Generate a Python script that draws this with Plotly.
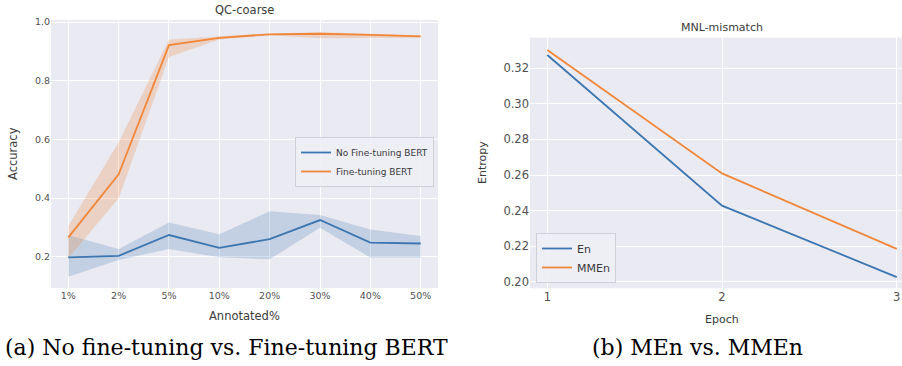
import plotly.graph_objects as go

W, H = 902, 366

# ---- data: left panel (QC-coarse) ----
annotated = ["1%", "2%", "5%", "10%", "20%", "30%", "40%", "50%"]
no_ft_mean = [0.198, 0.203, 0.274, 0.230, 0.260, 0.325, 0.248, 0.245]
no_ft_upper = [0.274, 0.226, 0.317, 0.277, 0.355, 0.342, 0.293, 0.271]
no_ft_lower = [0.132, 0.189, 0.226, 0.198, 0.191, 0.299, 0.197, 0.197]
ft_mean = [0.266, 0.481, 0.921, 0.946, 0.958, 0.960, 0.956, 0.951]
ft_upper = [0.305, 0.590, 0.940, 0.950, 0.961, 0.965, 0.960, 0.955]
ft_lower = [0.195, 0.399, 0.881, 0.940, 0.955, 0.945, 0.946, 0.946]
acc_ticks = [0.2, 0.4, 0.6, 0.8, 1.0]

# ---- data: right panel (MNL-mismatch) ----
epochs = [1, 2, 3]
en_vals = [0.3275, 0.2428, 0.2026]
mmen_vals = [0.3303, 0.2609, 0.2185]
ent_ticks = [0.20, 0.22, 0.24, 0.26, 0.28, 0.30, 0.32]

BLUE = "#3b76b0"
ORANGE = "#f0873a"
BLUE_BAND = "rgba(59,118,176,0.22)"
ORANGE_BAND = "rgba(240,135,58,0.25)"
BG = "#EAEAF2"
TICK = "#505050"
LAB = "#3a3a3a"
SANS = "DejaVu Sans"


def px(x):
    return x / W


def py(y):
    return 1 - y / H


fig = go.Figure()

# left bands + lines
fig.add_trace(go.Scatter(x=annotated + annotated[::-1], y=no_ft_upper + no_ft_lower[::-1],
                         mode="lines", fill="toself", fillcolor=BLUE_BAND, line=dict(width=0),
                         hoverinfo="skip", showlegend=False, xaxis="x", yaxis="y"))
fig.add_trace(go.Scatter(x=annotated + annotated[::-1], y=ft_upper + ft_lower[::-1],
                         mode="lines", fill="toself", fillcolor=ORANGE_BAND, line=dict(width=0),
                         hoverinfo="skip", showlegend=False, xaxis="x", yaxis="y"))
fig.add_trace(go.Scatter(x=annotated, y=no_ft_mean, mode="lines", name="No Fine-tuning BERT",
                         line=dict(color=BLUE, width=1.8), xaxis="x", yaxis="y", legend="legend"))
fig.add_trace(go.Scatter(x=annotated, y=ft_mean, mode="lines", name="Fine-tuning BERT",
                         line=dict(color=ORANGE, width=1.8), xaxis="x", yaxis="y", legend="legend"))

# right lines
fig.add_trace(go.Scatter(x=epochs, y=en_vals, mode="lines", name="En",
                         line=dict(color=BLUE, width=1.8), xaxis="x2", yaxis="y2", legend="legend2"))
fig.add_trace(go.Scatter(x=epochs, y=mmen_vals, mode="lines", name="MMEn",
                         line=dict(color=ORANGE, width=1.8), xaxis="x2", yaxis="y2", legend="legend2"))

axis_common = dict(showgrid=True, gridcolor="white", gridwidth=1, zeroline=False,
                   showline=False, ticks="", fixedrange=True, automargin=False)

fig.update_layout(
    width=W, height=H,
    margin=dict(l=0, r=0, t=0, b=0),
    paper_bgcolor="white",
    plot_bgcolor=BG,
    font=dict(family=SANS, color=TICK),
    xaxis=dict(domain=[px(51), px(438)], anchor="y", type="category",
               range=[-0.344, 7.344], tickfont=dict(size=9.5, color=TICK), **axis_common),
    yaxis=dict(domain=[py(288), py(20)], anchor="x", range=[0.0934, 1.0068],
               tickvals=acc_ticks, ticktext=[f"{v:.1f}" for v in acc_ticks],
               tickfont=dict(size=9.5, color=TICK), **axis_common),
    xaxis2=dict(domain=[px(530), 1.0], anchor="y2", range=[0.901, 3.030],
                tickvals=epochs, ticktext=[str(e) for e in epochs],
                ticklabeloverflow="allow",
                tickfont=dict(size=11.5, color=TICK), **axis_common),
    yaxis2=dict(domain=[py(288.3), py(37.7)], anchor="x2", range=[0.1963, 0.3372],
                tickvals=ent_ticks, ticktext=[f"{v:.2f}" for v in ent_ticks],
                tickfont=dict(size=11.5, color=TICK), **axis_common),
    legend=dict(x=px(434), y=py(137), xanchor="right", yanchor="top",
                bgcolor="rgba(238,238,245,0.9)", bordercolor="#cfcfd6", borderwidth=1,
                font=dict(size=9, color=LAB, family=SANS), tracegroupgap=0,
                itemwidth=30),
    legend2=dict(x=px(536), y=py(283), xanchor="left", yanchor="bottom",
                 bgcolor="rgba(238,238,245,0.9)", bordercolor="#cfcfd6", borderwidth=1,
                 font=dict(size=11, color=LAB, family=SANS), tracegroupgap=0,
                 itemwidth=30),
    showlegend=True,
)

annots = [
    dict(text="QC-coarse", x=px(244), y=py(10), size=11.5, color=LAB),
    dict(text="Annotated%", x=px(244), y=py(316), size=11.5, color=LAB),
    dict(text="Accuracy", x=px(13), y=py(154), size=11.5, color=LAB, angle=-90),
    dict(text="MNL-mismatch", x=px(722), y=py(28), size=11, color=LAB),
    dict(text="Epoch", x=px(722), y=py(319), size=11, color=LAB),
    dict(text="Entropy", x=px(483), y=py(163), size=11, color=LAB, angle=-90),
]
for a in annots:
    fig.add_annotation(text=a["text"], x=a["x"], y=a["y"], xref="paper", yref="paper",
                       xanchor="center", yanchor="middle", showarrow=False,
                       textangle=a.get("angle", 0),
                       font=dict(family=SANS, size=a["size"], color=a["color"]))

captions = [
    ("(a) No fine-tuning vs. Fine-tuning BERT", 226),
    ("(b) MEn vs. MMEn", 697),
]
for text, cx in captions:
    fig.add_annotation(text=text, x=px(cx), y=py(347), xref="paper", yref="paper",
                       xanchor="center", yanchor="middle", showarrow=False,
                       font=dict(family="DejaVu Serif", size=22, color="black"))

fig.write_html("out.html",
               config={"displayModeBar": False, "staticPlot": True},
               post_script="document.body.style.margin='0';document.body.style.overflow='hidden';")
